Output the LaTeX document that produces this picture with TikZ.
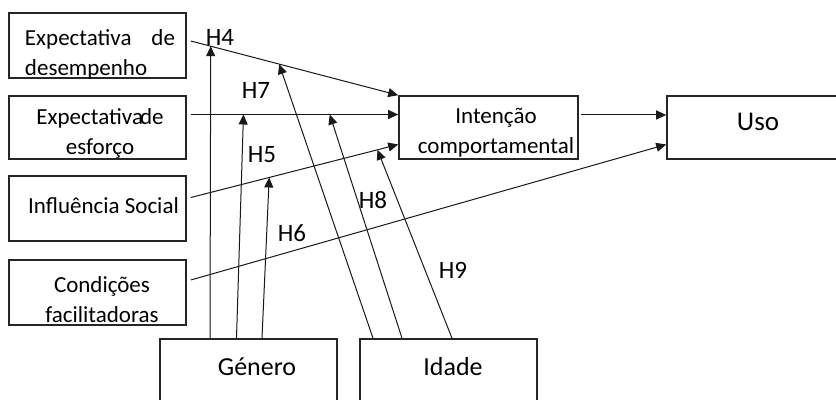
\documentclass[tikz,border=0pt]{standalone}
\usepackage{fontspec}
\setmainfont{Carlito}
\usetikzlibrary{arrows.meta,calc}

\begin{document}
\begin{tikzpicture}[
      x=0.5pt, y=-0.5pt,
      >={Triangle[length=5pt,width=4.5pt]},
      box/.style={rectangle, draw=black!85, line width=0.8pt, inner sep=0pt},
      leftbox/.style={box, minimum width=88.5pt, minimum height=32.5pt},
      txt/.style={inner sep=0pt, font=\fontsize{11.5}{15}\selectfont},
      bigtxt/.style={inner sep=0pt, font=\fontsize{13}{15}\selectfont},
      hyp/.style={inner sep=0pt, font=\fontsize{12.5}{15}\selectfont},
      link/.style={->, line width=0.5pt, black!90}
    ]
      \clip (0,0) rectangle (836,400);
      % constructs
      \node[leftbox] (ed) at (97.5,45.5) {};
      \node[leftbox, minimum height=31.5pt] (ee) at (97.5,127.5) {};
      \node[leftbox] (is) at (97.5,208.5) {};
      \node[leftbox] (cf) at (97.5,292.5) {};
      \node[box, minimum width=89.5pt, minimum height=31.5pt] (int) at (488.5,127.5) {};
      \node[box, minimum width=94pt, minimum height=31.5pt] (uso) at (761,127.5) {};
      \node[box, minimum width=88.5pt, minimum height=40.5pt] (ge) at (248.5,379.5) {};
      \node[box, minimum width=88.5pt, minimum height=40.5pt] (id) at (448.5,379.5) {};
      % texts
      \node[txt, text width=75pt, align=left] (edtxt) at (100,54) {Expectativa\hfill de\\desempenho};
      \node[txt, align=center] (eetxt) at (100,133) {Expectativa\kern-1.5pt de\\esforço};
      \node[txt] (istxt) at (103.5,206) {Influência Social};
      \node[txt, align=center] (cftxt) at (102,300) {Condições\\facilitadoras};
      \node[txt, align=center] (inttxt) at (496,133) {Intenção\\comportamental};
      \node[bigtxt, font=\fontsize{13.5}{15}\selectfont] (usotxt) at (758,122) {Uso};
      \node[bigtxt] (getxt) at (257,367) {Género};
      \node[bigtxt] (idtxt) at (453,367) {Idade};
      % main paths
      \draw[link] ($(ed.east)+(4,-4.5)$) -- (int.north west)
        coordinate[pos=0.096] (t4) coordinate[pos=0.426] (t7);
      \draw[link] ($(ee.east)+(4,-13)$) -- ($(int.west)+(0,-13)$)
        coordinate[pos=0.254] (t5) coordinate[pos=0.670] (t8);
      \draw[link] ($(is.east)+(4,-11)$) -- ($(int.west)+(0,17)$)
        coordinate[pos=0.378] (t6) coordinate[pos=0.900] (t9);
      \draw[link] ($(cf.east)+(4,-12.5)$) -- ($(uso.west)+(0,17)$);
      \draw[link] ($(int.east)+(2,-12.5)$) -- ($(uso.west)+(0,-12.5)$);
      % moderators
      \draw[link] ($(ge.north)+(-38.5,0)$) -- (t4);
      \draw[link] ($(ge.north)+(-12,0)$) -- (t5);
      \draw[link] ($(ge.north)+(13.5,0)$) -- (t6);
      \draw[link] ($(id.north)+(-75.5,0)$) -- (t7);
      \draw[link] ($(id.north)+(-46.5,0)$) -- (t8);
      \draw[link] ($(id.north)+(3.5,0)$) -- (t9);
      % hypotheses
      \node[hyp] (h4) at (220,37) {H4};
      \node[hyp] (h7) at (256,90) {H7};
      \node[hyp] (h5) at (262,155) {H5};
      \node[hyp] (h8) at (373,200) {H8};
      \node[hyp] (h6) at (292,233) {H6};
      \node[hyp] (h9) at (453,270) {H9};
    \end{tikzpicture}
\end{document}
